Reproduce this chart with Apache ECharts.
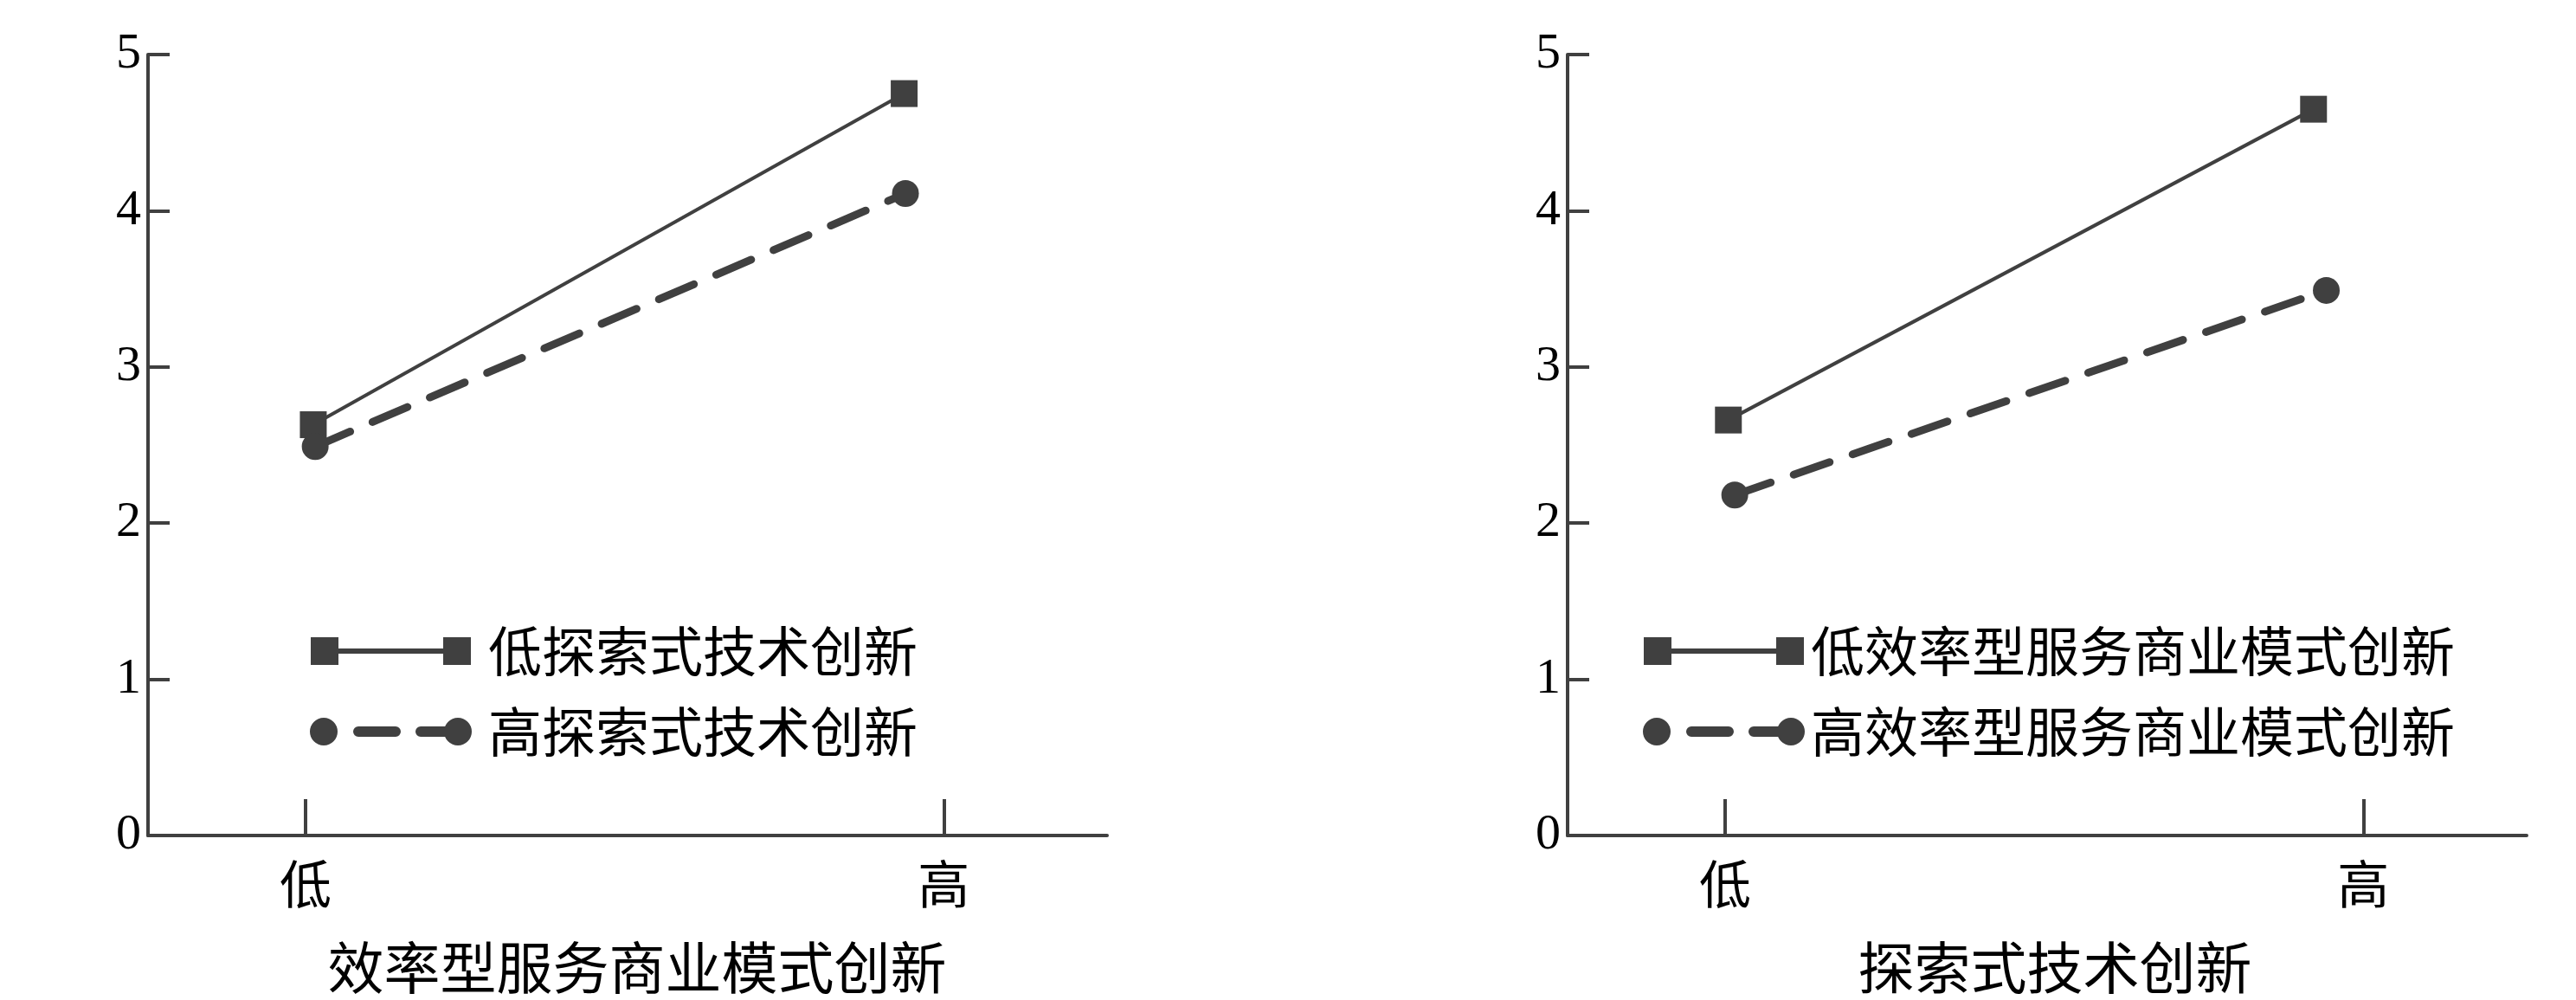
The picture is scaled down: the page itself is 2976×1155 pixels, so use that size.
<!DOCTYPE html>
<html><head><meta charset="utf-8">
<script src="https://cdn.jsdelivr.net/npm/echarts@6/dist/echarts.min.js"></script>
<style>html,body{margin:0;padding:0;background:#fff}#c{width:2976px;height:1155px}</style>
</head><body><div id="c"></div>
<script>
// ---- data ----
const categories = ['低', '高'];
const yTicks = [0, 1, 2, 3, 4, 5];
// left panel: x = 效率型服务商业模式创新, lines = 探索式技术创新
const leftAxisName = '效率型服务商业模式创新';
const leftNames = ['低探索式技术创新', '高探索式技术创新'];
const leftLowX = [0.012, 0.938];
const leftLowY = [2.63, 4.75];
const leftHighX = [0.015, 0.940];
const leftHighY = [2.49, 4.11];
// right panel: x = 探索式技术创新, lines = 效率型服务商业模式创新
const rightAxisName = '探索式技术创新';
const rightNames = ['低效率型服务商业模式创新', '高效率型服务商业模式创新'];
const rightLowX = [0.005, 0.922];
const rightLowY = [2.66, 4.65];
const rightHighX = [0.015, 0.942];
const rightHighY = [2.18, 3.49];

// ---- styles ----
const INK = '#404040';
const CJK = '"Noto Sans CJK SC", sans-serif';
const NUM = '"Liberation Serif", "Times New Roman", serif';
const squareIcon = 'path://M0,0H32V13H153V0H185V32H153V19H32V32H0Z';
const circleIcon = 'path://M0,16A16,16,0,1,1,32,16A16,16,0,1,1,0,16Z' +
  'M56,10H99A6,6,0,0,1,99,22H56A6,6,0,0,1,56,10Z' +
  'M128,10H160V22H128A6,6,0,0,1,128,10Z' +
  'M155,16A16,16,0,1,1,187,16A16,16,0,1,1,155,16Z';

const pairs = (xs, ys) => xs.map((x, i) => [x, ys[i]]);

function xAxis(gridIndex, name, namePad) {
  return {
    type: 'value', gridIndex, min: -0.247, max: 1.256,
    name, nameLocation: 'middle', nameGap: 120,
    nameTextStyle: {fontFamily: CJK, fontSize: 65, color: '#000', padding: namePad},
    axisLine: {show: true, onZero: false, lineStyle: {color: INK, width: 4}},
    axisTick: {show: true, inside: true, length: 42, customValues: [0, 1], lineStyle: {color: INK, width: 4}},
    axisLabel: {customValues: [0, 1], formatter: v => categories[Math.round(v)], fontFamily: CJK, fontSize: 60, color: '#000', margin: 26},
    splitLine: {show: false}
  };
}
function yAxis(gridIndex) {
  return {
    type: 'value', gridIndex, min: yTicks[0], max: yTicks[yTicks.length - 1], interval: 1,
    axisLine: {show: true, onZero: false, lineStyle: {color: INK, width: 4}},
    axisTick: {show: true, inside: true, length: 25, lineStyle: {color: INK, width: 4}},
    axisLabel: {fontFamily: NUM, fontSize: 58, color: '#000', margin: 8},
    splitLine: {show: false}
  };
}
function solid(name, i, xs, ys) {
  return {name, type: 'line', xAxisIndex: i, yAxisIndex: i, data: pairs(xs, ys),
    symbol: 'rect', symbolSize: 31, itemStyle: {color: INK},
    lineStyle: {color: INK, width: 4}, animation: false, z: 3};
}
function dashed(name, i, xs, ys) {
  return {name, type: 'line', xAxisIndex: i, yAxisIndex: i, data: pairs(xs, ys),
    symbol: 'circle', symbolSize: 31, itemStyle: {color: INK},
    lineStyle: {color: INK, width: 9, type: [44, 28], cap: 'round'}, animation: false, z: 4};
}
function legend(left, names, textPad) {
  return {
    left, top: 716, orient: 'vertical', itemWidth: 187, itemHeight: 32, itemGap: 31,
    selectedMode: false,
    data: [{name: names[0], icon: squareIcon}, {name: names[1], icon: circleIcon}],
    itemStyle: {borderWidth: 0},
    textStyle: {fontFamily: CJK, fontSize: 62, color: '#000', padding: [0, 0, 0, textPad]}
  };
}

const chart = echarts.init(document.getElementById('c'), null, {renderer: 'canvas'});
chart.setOption({
  backgroundColor: '#fff',
  animation: false,
  grid: [
    {left: 171, right: 2976 - 1279, top: 63, bottom: 1155 - 980},
    {left: 1811, right: 2976 - 2919, top: 63, bottom: 1155 - 980}
  ],
  xAxis: [xAxis(0, leftAxisName, [0, 0, 0, 22]), xAxis(1, rightAxisName, [0, 0, 0, 18])],
  yAxis: [yAxis(0), yAxis(1)],
  legend: [legend(353, leftNames, 14), legend(1893, rightNames, 2)],
  series: [
    solid(leftNames[0], 0, leftLowX, leftLowY),
    dashed(leftNames[1], 0, leftHighX, leftHighY),
    solid(rightNames[0], 1, rightLowX, rightLowY),
    dashed(rightNames[1], 1, rightHighX, rightHighY)
  ]
});
</script></body></html>
